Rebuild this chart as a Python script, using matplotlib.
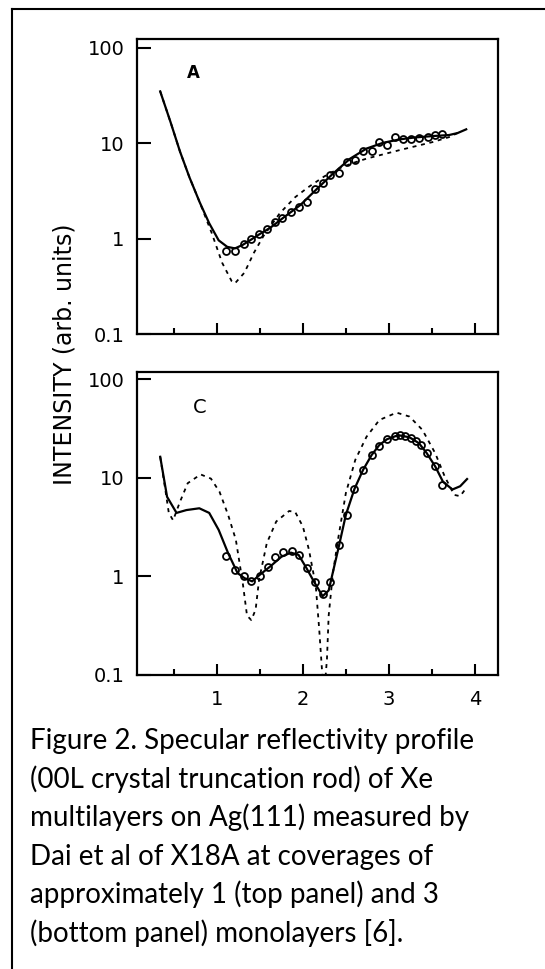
import matplotlib.pyplot as plt
from matplotlib.lines import Line2D

# top panel (A): ~1 monolayer
top_fit_L = [0.34, 0.46, 0.57, 0.68, 0.80, 0.91, 1.02, 1.12, 1.21, 1.30, 1.40, 1.50, 1.62, 1.77,
             1.97, 2.16, 2.35, 2.55, 2.74, 2.93, 3.13, 3.30, 3.51, 3.70, 3.80, 3.90]
top_fit_I = [35, 16.7, 8.2, 4.4, 2.4, 1.45, 0.96, 0.82, 0.79, 0.86, 0.98, 1.12, 1.3, 1.65,
             2.25, 3.3, 4.8, 6.9, 8.8, 10.1, 11.0, 11.5, 11.9, 12.2, 12.8, 14.0]
top_dash_L = [0.34, 0.46, 0.57, 0.68, 0.80, 0.94, 1.06, 1.17, 1.21, 1.32, 1.43, 1.54, 1.73,
              1.91, 2.06, 2.25, 2.43, 2.58, 2.74, 3.13, 3.51, 3.70, 3.80]
top_dash_I = [35, 16.7, 8.2, 4.4, 2.4, 1.14, 0.56, 0.36, 0.34, 0.44, 0.71, 1.06, 1.84,
              2.72, 3.45, 4.5, 5.5, 6.2, 6.9, 8.5, 10.3, 11.6, 12.8]
top_obs_L = [1.11, 1.21, 1.31, 1.40, 1.49, 1.58, 1.67, 1.76, 1.86, 1.95, 2.05, 2.14, 2.23, 2.32,
             2.42, 2.51, 2.61, 2.70, 2.80, 2.88, 2.98, 3.07, 3.17, 3.26, 3.35, 3.45, 3.54, 3.62]
top_obs_I = [0.75, 0.75, 0.88, 0.98, 1.13, 1.27, 1.51, 1.65, 1.88, 2.17, 2.45, 3.33, 3.8, 4.68,
             4.87, 6.32, 6.68, 8.34, 8.34, 10.3, 9.7, 11.6, 11.0, 11.0, 11.3, 11.6, 12.3, 12.5]

# bottom panel (C): ~3 monolayers
bot_fit_L = [0.34, 0.42, 0.53, 0.645, 0.795, 0.91, 1.02, 1.13, 1.24, 1.32, 1.41, 1.50, 1.62, 1.75,
             1.86, 1.95, 2.04, 2.13, 2.23, 2.30, 2.41, 2.50, 2.60, 2.70, 2.80, 2.89, 2.98, 3.11,
             3.24, 3.35, 3.44, 3.54, 3.63, 3.74, 3.83, 3.91]
bot_fit_I = [16.3, 6.4, 4.4, 4.7, 4.9, 4.4, 2.96, 1.72, 1.08, 0.96, 0.89, 1.04, 1.26, 1.58,
             1.74, 1.65, 1.22, 0.88, 0.63, 0.72, 1.87, 4.2, 7.7, 12.0, 17, 21.5, 24.6, 27,
             25.7, 22.4, 17.8, 13, 9.1, 7.6, 8.2, 9.7]
bot_dash_L = [0.34, 0.40, 0.44, 0.49, 0.57, 0.66, 0.81, 0.93, 1.03, 1.13, 1.22, 1.30, 1.35, 1.40,
              1.45, 1.49, 1.58, 1.69, 1.84, 1.91, 2.00, 2.07, 2.15, 2.19, 2.22, 2.245, 2.28, 2.30,
              2.35, 2.41, 2.50, 2.61, 2.74, 2.89, 3.09, 3.24, 3.39, 3.54, 3.65, 3.76, 3.83, 3.91]
bot_dash_I = [16.3, 7.5, 4.4, 3.7, 5.7, 8.8, 10.8, 9.8, 7.2, 4.2, 2.35, 0.86, 0.40, 0.36,
              0.46, 0.92, 2.17, 3.6, 4.6, 4.5, 3.2, 1.87, 0.8, 0.29, 0.12, 0.06, 0.145, 0.4,
              1.09, 2.4, 7.0, 15.2, 26, 38.5, 45.7, 41.7, 30.6, 17.7, 10.3, 6.7, 6.5, 8.1]
bot_obs_L = [1.11, 1.21, 1.31, 1.40, 1.50, 1.59, 1.68, 1.77, 1.87, 1.96, 2.05, 2.14, 2.23, 2.32,
             2.42, 2.51, 2.60, 2.70, 2.80, 2.89, 2.98, 3.07, 3.13, 3.19, 3.26, 3.32, 3.37, 3.44,
             3.54, 3.62]
bot_obs_I = [1.62, 1.17, 1.02, 0.90, 1.0, 1.23, 1.56, 1.76, 1.79, 1.66, 1.21, 0.88, 0.66, 0.88,
             2.06, 4.2, 7.7, 12.0, 17.1, 21.2, 24.6, 26.5, 27.2, 26.5, 25.5, 23.8, 21.5, 17.7,
             13.0, 8.5]

y_ticks = [0.1, 1, 10, 100]
y_labels = ['0.1', '1', '10', '100']
x_major = [1, 2, 3, 4]
x_minor = [0.5, 1.5, 2.5, 3.5]

caption = [
    "Figure 2. Specular reflectivity profile",
    "(00L crystal truncation rod) of Xe",
    "multilayers on Ag(111) measured by",
    "Dai et al of X18A at coverages of",
    "approximately 1 (top panel) and 3",
    "(bottom panel) monolayers [6].",
]

W, H = 545, 969
fig = plt.figure(figsize=(W / 100, H / 100), dpi=100)

# outer frame (top and left edges only)
fig.add_artist(Line2D([12 / W, 1], [1 - 9 / H, 1 - 9 / H], color='black', lw=1.5))
fig.add_artist(Line2D([12 / W, 12 / W], [0, 1 - 9 / H], color='black', lw=1.5))

ax_top = fig.add_axes([137 / W, 1 - 334 / H, 361 / W, 295 / H])
ax_bot = fig.add_axes([137 / W, 1 - 675 / H, 361 / W, 303 / H])

dash = (0, (2.2, 2.6))

ax_top.plot(top_fit_L, top_fit_I, color='black', lw=1.6)
ax_top.plot(top_dash_L, top_dash_I, color='black', lw=1.3, linestyle=dash)
ax_top.plot(top_obs_L, top_obs_I, 'o', mfc='none', mec='black', ms=5, mew=1.3)
ax_top.set_ylim(0.1, 124)
ax_top.text(0.72, 54, 'A', fontsize=12, fontweight='bold', ha='center', va='center')

ax_bot.plot(bot_fit_L, bot_fit_I, color='black', lw=1.6)
ax_bot.plot(bot_dash_L, bot_dash_I, color='black', lw=1.3, linestyle=dash)
ax_bot.plot(bot_obs_L, bot_obs_I, 'o', mfc='none', mec='black', ms=5, mew=1.3)
ax_bot.set_ylim(0.1, 118)
ax_bot.text(0.80, 52, 'C', fontsize=14, ha='center', va='center')

for ax in (ax_top, ax_bot):
    ax.set_yscale('log')
    ax.set_xlim(0.07, 4.27)
    ax.set_yticks(y_ticks)
    ax.set_yticklabels(y_labels)
    ax.yaxis.set_minor_locator(plt.NullLocator())
    ax.set_xticks(x_major)
    ax.set_xticks(x_minor, minor=True)
    ax.tick_params(axis='y', which='major', direction='in', length=10, width=1.5,
                   labelsize=14, pad=9)
    ax.tick_params(axis='x', which='major', direction='in', length=8, width=1.5,
                   labelsize=14, pad=11)
    ax.tick_params(axis='x', which='minor', direction='in', length=4, width=1.5)
    for s in ax.spines.values():
        s.set_linewidth(1.6)

ax_top.set_xticklabels([])

fig.text(65 / W, 1 - 354 / H, 'INTENSITY (arb. units)', rotation=90,
         ha='center', va='center', fontsize=17)

for i, line in enumerate(caption):
    fig.text(30 / W, 1 - (749 + i * 38.6) / H, line, fontsize=20, family='Lato',
             ha='left', va='baseline')

fig.savefig('out.png', dpi=100)
